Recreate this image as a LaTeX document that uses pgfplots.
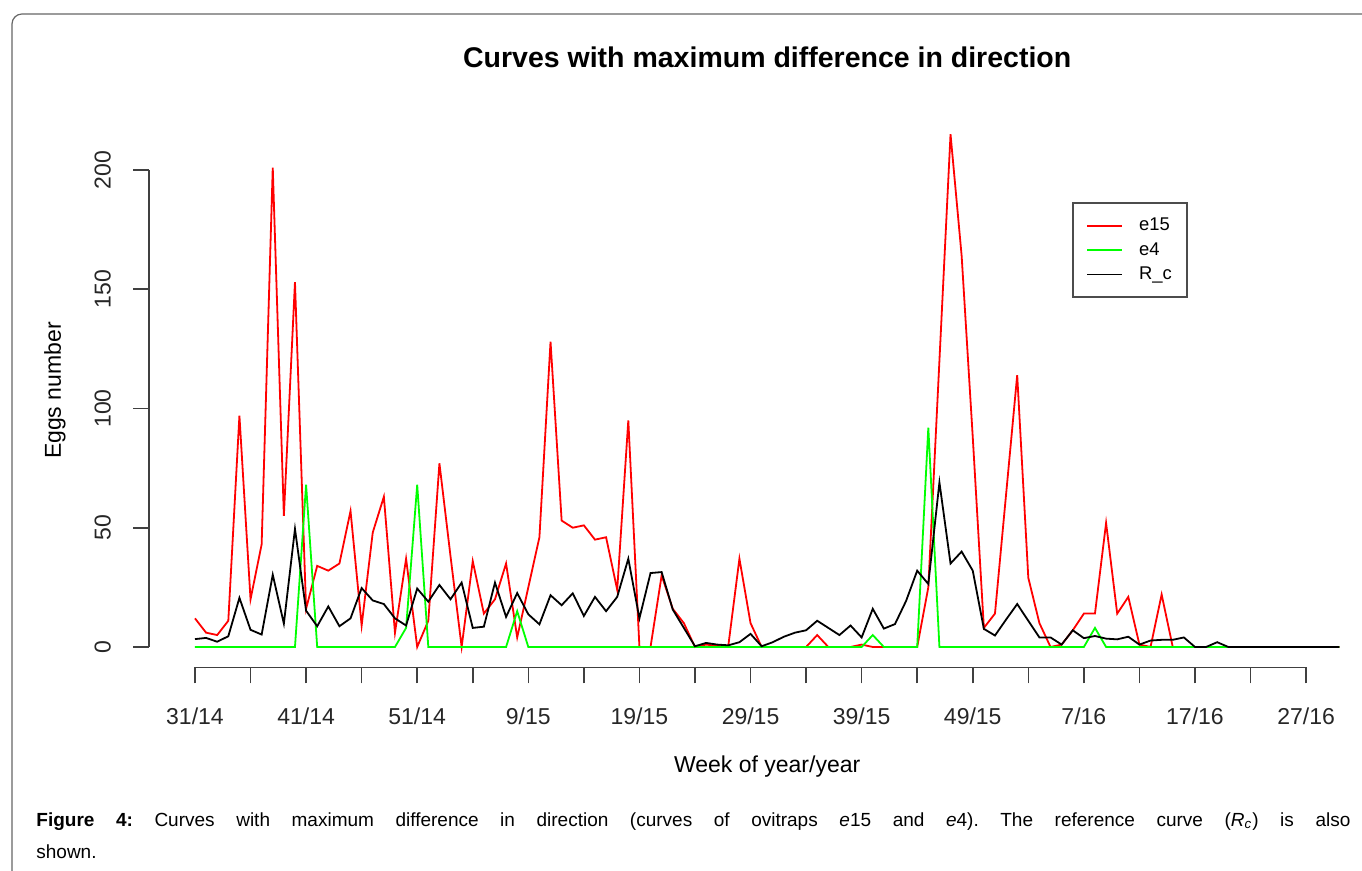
\documentclass[border=0pt]{standalone}
\usepackage{fontspec}
\setmainfont{Liberation Sans}
\usepackage{pgfplots}
\usepackage{pgfplotstable}
\pgfplotsset{compat=1.18}

% weekly egg counts, index 0 = week 31/14
\pgfplotstableread{
i e15 e4 Rc
0 12 0 3.3
1 6 0 3.8
2 5 0 2.2
3 11 0 4.5
4 97 0 20.6
5 20 0 7.2
6 43 0 5.2
7 201 0 30.3
8 55 0 9.8
9 153 0 49.5
10 16 68 15.2
11 34 0 8.7
12 32 0 17
13 35 0 8.7
14 57 0 12
15 9 0 24.7
16 48 0 19.5
17 63 0 18
18 6 0 12
19 37 8 9
20 0 68 24.5
21 11 0 19
22 77 0 26
23 38 0 20
24 0 0 27
25 36 0 8
26 14 0 8.5
27 20 0 27
28 35 0 12.6
29 4 15 22.6
30 25 0 13.7
31 46 0 9.5
32 128 0 21.7
33 53 0 17.5
34 50 0 22.5
35 51 0 13
36 45 0 21
37 46 0 15
38 24 0 21
39 95 0 37
40 0 0 12
41 0 0 31
42 30 0 31.4
43 16 0 15.7
44 10 0 8
45 0 0 0.3
46 1 0 1.7
47 0.5 0 1
48 0.5 0 0.7
49 37 0 2
50 10 0 5.5
51 0 0 0.3
52 0 0 2
53 0 0 4.3
54 0 0 6
55 0 0 7
56 5 0 11
57 0 0 8
58 0 0 5
59 0 0 9
60 1 0 4
61 0 5 16
62 0 0 7.7
63 0 0 9.6
64 0 0 19.3
65 0 0 32
66 25 92 26.4
67 120 0 69
68 215 0 35
69 164 0 40
70 88 0 32
71 8 0 7.6
72 14 0 4.8
73 64 0 11.5
74 114 0 18
75 29 0 11
76 10 0 4
77 0 0 4
78 1 0 1
79 7 0 7
80 14 0 3.7
81 14 8 4.6
82 52 0 3.5
83 14 0 3.2
84 21 0 4.3
85 1 0 1
86 0 0 2.7
87 22 0 3
88 0 0 3
89 0 0 4
90 0 0 0
91 0 0 0
92 0 0 2
93 0 0 0
94 0 0 0
95 0 0 0
96 0 0 0
97 0 0 0
98 0 0 0
99 0 0 0
100 0 0 0
101 0 0 0
102 0 0 0
103 0 0 0
}\eggs

\begin{document}
\begin{tikzpicture}
\useasboundingbox (0,0) rectangle (681pt,435.5pt);
\clip (0,0) rectangle (681pt,435.5pt);
\draw[black!60, line width=0.6pt, rounded corners=5pt] (6pt,-20pt) rectangle (720pt,428.5pt);

\begin{axis}[
  at={(74.6pt,101.75pt)}, anchor=south west,
  scale only axis, width=618pt, height=276.9pt,
  xmin=-4.12, xmax=107.12, ymin=-8.6, ymax=223.6,
  axis line style={draw=none},
  clip=false,
  tick align=outside, xtick pos=bottom, ytick pos=left,
  major tick length=8pt,
  tick style={black!75, line width=0.8pt},
  xtick={0,5,...,100},
  xticklabels={{31/14},{},{41/14},{},{51/14},{},{9/15},{},{19/15},{},{29/15},{},{39/15},{},{49/15},{},{7/16},{},{17/16},{},{27/16}},
  ytick={0,50,100,150,200},
  /pgf/number format/assume math mode=true,
  tick label style={font=\fontsize{11.5}{13}\selectfont, text=black!85},
  x tick label style={inner ysep=12pt},
  y tick label style={rotate=90, anchor=south, inner ysep=11pt},
  title={Curves with maximum difference in direction},
  title style={at={(axis description cs:0.5,1.081)}, anchor=center,
    font=\fontsize{14.25}{17}\selectfont\bfseries},
  xlabel={Week of year/year},
  xlabel style={at={(axis description cs:0.5,-0.1797)}, anchor=center,
    font=\fontsize{11.5}{13}\selectfont},
  ylabel={Eggs number},
  ylabel style={at={(axis description cs:-0.0762,0.5)}, anchor=center, rotate=0,
    font=\fontsize{11.5}{13}\selectfont},
  legend style={at={(axis description cs:0.747,0.84)}, anchor=north west,
    draw=black!70, line width=0.8pt, fill=white,
    font=\fontsize{9.2}{11}\selectfont,
    inner xsep=6.5pt, inner ysep=6pt, row sep=1.6pt, column sep=7pt,
    nodes={inner sep=1pt, text height=6.8pt, text depth=1.8pt}},
  legend cell align=left,
  legend image code/.code={\draw[#1] (0.5pt,0pt) -- (18pt,0pt);},
]
\draw[black!75, line width=0.8pt] (axis cs:0,-8.6) -- (axis cs:100,-8.6);
\draw[black!75, line width=0.8pt] (axis cs:-4.12,0) -- (axis cs:-4.12,200);

\addplot[red, line width=0.9pt] table[x=i, y=e15] {\eggs};
\addlegendentry{e15}
\addplot[green, line width=0.9pt] table[x=i, y=e4] {\eggs};
\addlegendentry{e4}
\addplot[black, line width=0.9pt] table[x=i, y=Rc] {\eggs};
\addlegendentry{R\_c}
\end{axis}

\node[anchor=north west, inner sep=0pt, text width=657pt, align=justify,
  font=\fontsize{9.5}{16}\selectfont\frenchspacing] at (18pt,29.5pt)
  {\textbf{Figure 4:} Curves with maximum difference in direction (curves of ovitraps \textit{e}15 and \textit{e}4). The reference curve (\textit{R}\textsubscript{\textit{c}}) is also\linebreak shown.};
\end{tikzpicture}
\end{document}
